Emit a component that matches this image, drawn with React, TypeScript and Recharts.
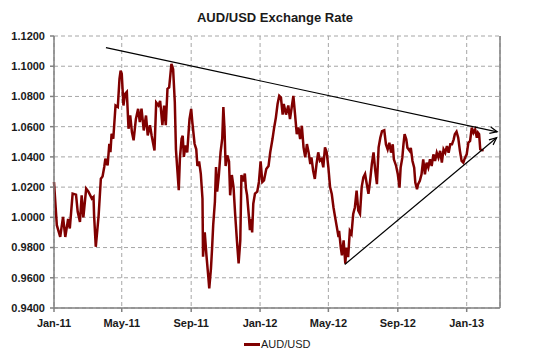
import { CartesianGrid, Line, LineChart, XAxis, YAxis } from 'recharts'

// day 0 = 1 Jan 2011
const days = [
  0, 5, 11, 16, 20, 25, 28, 33, 39, 42, 46, 49, 52, 57, 61, 67, 70, 71, 74, 79, 83, 86, 89, 91, 95, 98,
  100, 102, 105, 109, 113, 116, 118, 120, 123, 126, 129, 132, 135, 138, 141, 145, 149, 152, 155, 159,
  163, 166, 170, 173, 178, 181, 185, 188, 192, 195, 198, 201, 204, 208, 211, 214, 216, 218, 221, 223,
  226, 228, 230, 233, 236, 240, 243, 245, 249, 252, 254, 257, 260, 263, 264, 267, 270, 273, 275, 278,
  280, 282, 285, 287, 289, 292, 295, 298, 300, 302, 304, 307, 310, 312, 315, 318, 321, 324, 327, 330,
  332, 335, 338, 340, 342, 345, 347, 349, 351, 353, 356, 360, 363, 366, 369, 372, 376, 380, 383, 387,
  390, 393, 396, 399, 402, 405, 407, 411, 415, 418, 421, 424, 427, 430, 433, 436, 439, 442, 445, 448,
  451, 454, 456, 459, 462, 465, 468, 471, 474, 477, 480, 483, 486, 489, 492, 495, 498, 501, 504, 505,
  508, 510, 513, 516, 518, 521, 524, 527, 530, 533, 536, 539, 542, 545, 548, 551, 554, 557, 560, 563,
  566, 569, 572, 575, 578, 581, 585, 588, 591, 594, 597, 600, 602, 606, 609, 612, 614, 617, 619, 621,
  624, 626, 630, 632, 635, 638, 640, 643, 645, 648, 651, 654, 657, 660, 663, 666, 669, 672, 675, 678,
  681, 684, 687, 690, 693, 696, 699, 702, 705, 708, 710, 713, 716, 719, 722, 725, 728, 731, 734, 737,
  740, 743, 746, 749, 751, 753, 755, 758, 761,
]

const rates = [
  1.0234, 0.9948, 0.9871, 1.0003, 0.987, 0.999, 0.9926, 1.0157, 1.015, 1.0036, 0.997, 1.0146, 1.0,
  1.019, 1.017, 1.0124, 1.0135, 1.0014, 0.9805, 1.001, 1.0256, 1.027, 1.0333, 1.0388, 1.0344, 1.0487,
  1.0432, 1.0553, 1.052, 1.074, 1.073, 1.0916, 1.0971, 1.095, 1.074, 1.0817, 1.083, 1.0586, 1.0674,
  1.0564, 1.051, 1.065, 1.0718, 1.063, 1.072, 1.0575, 1.0674, 1.0542, 1.061, 1.054, 1.0443, 1.076,
  1.074, 1.077, 1.061, 1.074, 1.061, 1.085, 1.086, 1.1015, 1.098, 1.076, 1.045, 1.034, 1.018, 1.039,
  1.052, 1.054, 1.04, 1.0476, 1.043, 1.065, 1.0718, 1.063, 1.0487, 1.045, 1.034, 1.037, 1.029, 1.0124,
  0.974, 0.99, 0.975, 0.962, 0.953, 0.966, 0.9794, 0.995, 1.0102, 1.0333, 1.017, 1.028, 1.043, 1.052,
  1.073, 1.0586, 1.034, 1.041, 1.037, 1.0146, 1.028, 1.02, 1.0014, 0.9847, 0.9695, 0.9847, 1.028,
  1.0237, 1.029, 1.019, 1.0146, 1.0014, 0.9915, 0.999, 0.99, 1.009, 1.0157, 1.017, 1.0234, 1.037,
  1.0234, 1.0245, 1.032, 1.034, 1.043, 1.0518, 1.0595, 1.066, 1.075, 1.0804, 1.0793, 1.068, 1.075,
  1.068, 1.074, 1.065, 1.0727, 1.0804, 1.068, 1.055, 1.0595, 1.0518, 1.0606, 1.0463, 1.0397, 1.0485,
  1.043, 1.0353, 1.0397, 1.031, 1.0254, 1.0353, 1.043, 1.0375, 1.0386, 1.0331, 1.0463, 1.043, 1.033,
  1.02, 1.0155, 1.0067, 1.0, 0.9935, 0.987, 0.991, 0.98, 0.9748, 0.9847, 0.9694, 0.98, 0.9737, 0.991,
  0.989, 1.0023, 1.0067, 1.0177, 1.0045, 1.0023, 1.02, 1.0265, 1.0287, 1.0221, 1.0155, 1.0243, 1.0353,
  1.043, 1.031, 1.022, 1.0463, 1.0527, 1.057, 1.0576, 1.0483, 1.045, 1.0494, 1.0428, 1.0483, 1.0384,
  1.034, 1.0285, 1.0197, 1.0329, 1.0395, 1.0483, 1.055, 1.0516, 1.0461, 1.044, 1.046, 1.0373, 1.0329,
  1.023, 1.0186, 1.022, 1.0241, 1.0285, 1.0384, 1.0285, 1.0362, 1.033, 1.0384, 1.034, 1.0417, 1.0373,
  1.0428, 1.0395, 1.044, 1.0362, 1.045, 1.0428, 1.0472, 1.0428, 1.0483, 1.0483, 1.0516, 1.055, 1.0567,
  1.0527, 1.044, 1.0373, 1.0362, 1.0395, 1.0417, 1.0494, 1.0505, 1.0593, 1.056, 1.0582, 1.0527, 1.056,
  1.055, 1.045, 1.0444, 1.0446,
]

const xTickDays = [0, 120, 243, 365, 486, 609, 731]
const xTickLabels = ['Jan-11', 'May-11', 'Sep-11', 'Jan-12', 'May-12', 'Sep-12', 'Jan-13']
const yTicks = [0.94, 0.96, 0.98, 1.0, 1.02, 1.04, 1.06, 1.08, 1.1, 1.12]

const upperTrend = [
  { day: 92, rate: 1.1123 },
  { day: 785, rate: 1.0566 },
]
const lowerTrend = [
  { day: 515, rate: 0.9688 },
  { day: 784, rate: 1.0527 },
]

const data = days.map((d, i) => ({ day: d, rate: rates[i] }))

const FONT = '"Liberation Sans", Arial, sans-serif'
const tickStyle = { fontSize: 11, fontWeight: 700, fill: '#1a1a1a', fontFamily: FONT }

// open arrowhead on the last point of a trend line
function ArrowDot(props: any) {
  const { cx, cy, index, points } = props
  if (index !== 1 || !points || points.length < 2) return <g key={`d${index}`} />
  const a = Math.atan2(cy - points[0].y, cx - points[0].x)
  const len = 8
  const spread = 0.42
  const ax = cx - len * Math.cos(a - spread)
  const ay = cy - len * Math.sin(a - spread)
  const bx = cx - len * Math.cos(a + spread)
  const by = cy - len * Math.sin(a + spread)
  return (
    <path key={`d${index}`} d={`M${ax},${ay} L${cx},${cy} L${bx},${by}`} fill="none" stroke="#000" strokeWidth={1.2} />
  )
}

export default function App() {
  return (
    <div style={{ position: 'absolute', left: 0, top: 0, width: 550, height: 357, background: '#fff', fontFamily: FONT }}>
      <div
        style={{
          position: 'absolute',
          top: 10,
          left: 0,
          width: 550,
          textAlign: 'center',
          fontSize: 13,
          fontWeight: 700,
          color: '#1a1a1a',
        }}
      >
        AUD/USD Exchange Rate
      </div>
      <LineChart width={550} height={357} data={data} margin={{ top: 36, right: 0, bottom: 0, left: 0 }}>
        <CartesianGrid stroke="#a6a6a6" strokeDasharray="4 3" />
        <XAxis
          dataKey="day"
          type="number"
          domain={[0, 790]}
          ticks={xTickDays}
          tickFormatter={(v: number) => xTickLabels[xTickDays.indexOf(v)] ?? ''}
          tick={tickStyle}
          tickSize={4}
          tickMargin={7}
          stroke="#808080"
          strokeWidth={1.5}
          height={49}
          interval={0}
        />
        <YAxis
          domain={[0.94, 1.12]}
          ticks={yTicks}
          tickFormatter={(v: number) => v.toFixed(4)}
          tick={tickStyle}
          tickSize={4}
          tickMargin={5}
          stroke="#808080"
          strokeWidth={1.5}
          width={54}
          interval={0}
        />
        <YAxis
          yAxisId="right"
          orientation="right"
          domain={[0.94, 1.12]}
          ticks={yTicks}
          tickFormatter={(v: number) => v.toFixed(4)}
          tick={tickStyle}
          tickSize={4}
          tickMargin={4}
          stroke="#808080"
          strokeWidth={1.5}
          width={50}
          interval={0}
        />
        <Line
          dataKey="rate"
          type="linear"
          stroke="#800000"
          strokeWidth={2.5}
          dot={false}
          isAnimationActive={false}
        />
        <Line
          data={upperTrend}
          dataKey="rate"
          type="linear"
          stroke="#000"
          strokeWidth={1.2}
          dot={ArrowDot}
          activeDot={false}
          isAnimationActive={false}
        />
        <Line
          data={lowerTrend}
          dataKey="rate"
          type="linear"
          stroke="#000"
          strokeWidth={1.2}
          dot={ArrowDot}
          activeDot={false}
          isAnimationActive={false}
        />
      </LineChart>
      <div style={{ position: 'absolute', top: 338, left: 244, display: 'flex', alignItems: 'center', fontSize: 11, color: '#1a1a1a' }}>
        <span style={{ display: 'inline-block', width: 16, height: 3, background: '#800000', marginRight: 1 }} />
        <span>AUD/USD</span>
      </div>
    </div>
  )
}
